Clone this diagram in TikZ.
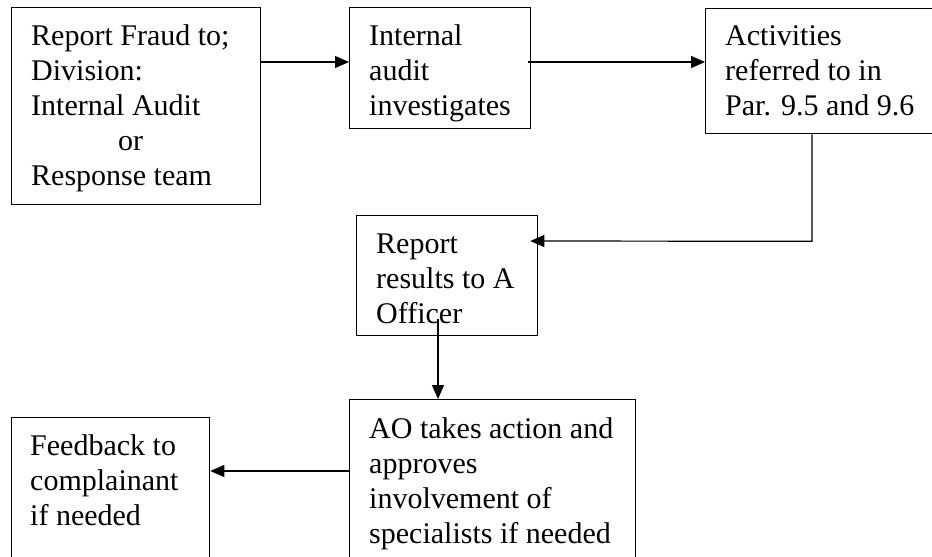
\documentclass[tikz,border=0pt]{standalone}
\usepackage{fontspec}
\setmainfont{Liberation Serif}
\usetikzlibrary{arrows.meta,calc}
\begin{document}
\begin{tikzpicture}[x=1pt,y=-1pt,
  box/.style={draw,line width=1.3pt,rectangle,anchor=north west,inner sep=0pt},
  txt/.style={anchor=base west,align=left,inner sep=0pt,font=\fontsize{30}{35}\selectfont},
  arr/.style={line width=1.2pt,-{Triangle[length=14pt,width=12pt]}}]
\useasboundingbox (0,0) rectangle (932,557);
\clip (0,0) rectangle (932,557);
% boxes
\node[box,minimum width=249pt,minimum height=197pt] (b1) at (11,7) {};
\node[box,minimum width=181pt,minimum height=121pt] (b2) at (349,7) {};
\node[box,minimum width=240pt,minimum height=125pt] (b3) at (705,8) {};
\node[box,minimum width=181pt,minimum height=120pt] (b4) at (356,215) {};
\node[box,minimum width=286pt,minimum height=190pt] (b5) at (349,399) {};
\node[box,minimum width=198pt,minimum height=170pt] (b6) at (11,417) {};
% texts (anchored at the baseline of the last line)
\node[txt] (t1) at ($(b1.north west)+(20,178)$) {Report Fraud to;\\Division:\\Internal Audit\\\hspace*{87pt}or\\Response team};
\node[txt] (t2) at ($(b2.north west)+(20,108)$) {Internal\\audit\\investigates};
\node[txt] (t3) at ($(b3.north west)+(20,107)$) {Activities\\referred to in\\Par. 9.5 and 9.6};
\node[txt] (t4) at ($(b4.north west)+(20,108)$) {Report\\results to A\\Officer};
\node[txt] (t5) at ($(b5.north west)+(20,144)$) {AO takes action and\\approves\\involvement of\\specialists if needed};
\node[txt] (t6) at ($(b6.north west)+(19,108)$) {Feedback to\\complainant\\if needed};
% connectors
\draw[arr] (b1.east |- 0,62) -- (b2.west |- 0,62);
\draw[arr] ($(b2.east |- 0,62)+(-3,0)$) -- (b3.west |- 0,62);
\draw[arr] ($(b3.south west)+(107,0)$) -- ++(0,107) -- ($(b4.north east)+(-8,26)$);
\draw[arr] ($(b4.south west)+(82,-17)$) -- ($(b5.north west)+(89,0)$);
\draw[arr] (b5.west |- 0,471) -- (b6.east |- 0,471);
\end{tikzpicture}
\end{document}
